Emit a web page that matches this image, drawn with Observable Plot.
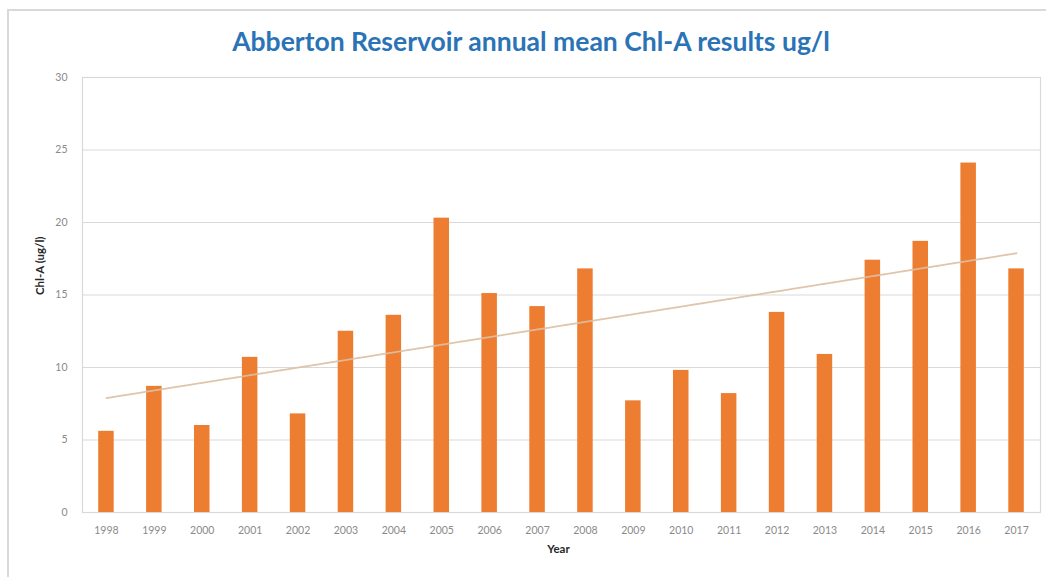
<!DOCTYPE html>
<html>
<head>
<meta charset="utf-8">
<script src="https://cdn.jsdelivr.net/npm/d3@7"></script>
<script src="https://cdn.jsdelivr.net/npm/@observablehq/plot@0.6"></script>
<style>
  html, body { margin: 0; padding: 0; background: #fff; }
  #wrap { position: relative; width: 1046px; height: 577px; overflow: hidden; }
  #border { position: absolute; left: 7px; top: 9px; width: 1060px; height: 600px;
            border: 2px solid #d9d9d9; box-sizing: border-box; }
  #title { position: absolute; left: 0; width: 1062px; top: 25px; text-align: center;
           font-family: Lato, "Open Sans", sans-serif; font-weight: bold; font-size: 26.5px;
           line-height: 32px; color: #2a73b6; }
  #chart { position: absolute; left: 0; top: 0; }
</style>
</head>
<body>
<div id="wrap">
  <div id="border"></div>
  <div id="title">Abberton Reservoir annual mean Chl-A results ug/l</div>
  <div id="chart"></div>
</div>
<script>
// Annual mean chlorophyll-a at Abberton Reservoir (ug/l)
const years = ["1998","1999","2000","2001","2002","2003","2004","2005","2006","2007",
               "2008","2009","2010","2011","2012","2013","2014","2015","2016","2017"];
const chlA = [5.6, 8.7, 6.0, 10.7, 6.8, 12.5, 13.6, 20.3, 15.1, 14.2,
              16.8, 7.7, 9.8, 8.2, 13.8, 10.9, 17.4, 18.7, 24.1, 16.8];
const yTicks = [0, 5, 10, 15, 20, 25, 30];

const rows = years.map((year, i) => ({year, value: chlA[i]}));

// Least-squares linear trend over the year sequence
const n = chlA.length;
const xs = d3.range(n);
const mx = d3.mean(xs), my = d3.mean(chlA);
const slope = d3.sum(xs, (x, i) => (x - mx) * (chlA[i] - my)) / d3.sum(xs, x => (x - mx) ** 2);
const intercept = my - slope * mx;
const trend = years.map((year, i) => ({year, value: intercept + slope * i}));

const chart = Plot.plot({
  width: 1046,
  height: 577,
  marginTop: 77,
  marginBottom: 65,
  marginLeft: 82,
  marginRight: 6,
  style: {background: "transparent", fontFamily: "Lato, 'Open Sans', sans-serif"},
  x: {domain: years, padding: 0, round: false, label: null},
  y: {domain: [0, 30], label: null},
  marks: [
    Plot.gridY(yTicks.filter(t => t > 0 && t < 30), {stroke: "#d9d9d9", strokeOpacity: 1, strokeWidth: 1.2}),
    Plot.frame({stroke: "#d9d9d9", strokeWidth: 1.2}),
    // slim columns centred in each year band
    Plot.barY(rows, {x: "year", y: "value", fill: "#ed7d31", insetLeft: 16.2, insetRight: 16.2}),
    Plot.line(trend, {x: "year", y: "value", stroke: "#dcbfa3", strokeWidth: 1.8, strokeDasharray: "2,1", strokeOpacity: 0.9}),
    Plot.axisY(yTicks, {tickSize: 0, tickPadding: 15, fontSize: 10.5, fill: "#8a8a8a", label: null}),
    Plot.axisX({tickSize: 0, tickPadding: 14, fontSize: 10.5, fill: "#8a8a8a", label: null}),
    Plot.text(["Chl-A (ug/l)"], {frameAnchor: "left", dx: -42, rotate: -90, fontSize: 11.5, fontWeight: "bold", fill: "#262626"}),
    Plot.text(["Year"], {frameAnchor: "bottom", dy: 40, dx: -3, fontSize: 11.5, fontWeight: "bold", fill: "#262626"})
  ]
});
document.getElementById("chart").appendChild(chart);
</script>
</body>
</html>
